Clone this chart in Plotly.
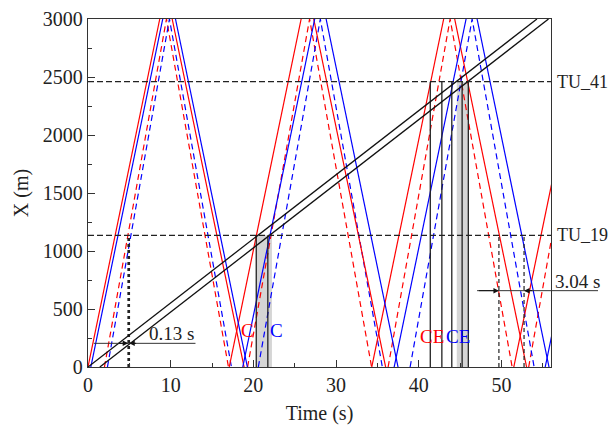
import plotly.graph_objects as go

# ---------------- data ----------------
X_MAX = 56.0
Y_MAX = 3000

TU_41 = 2460
TU_19 = 1135

# red / blue solid trajectories (time s, position m); None separates segments
RED_SOLID_T = [0.0, 8.68, None, 10.18, 18.88, None, 17.08, 25.78, None, 27.30, 36.00,
               None, 34.32, 43.02, None, 44.35, 53.05, None, 51.50, 60.20]
RED_SOLID_X = [0, 3000, None, 3000, 0, None, 0, 3000, None, 3000, 0,
               None, 0, 3000, None, 3000, 0, None, 0, 3000]
BLUE_SOLID_T = [0.34, 9.04, None, 10.58, 19.28, None, 18.72, 27.42, None, 28.80, 37.50,
                None, 37.03, 45.73, None, 47.06, 55.76, None, 55.30, 64.00]
BLUE_SOLID_X = [0, 3000, None, 3000, 0, None, 0, 3000, None, 3000, 0,
                None, 0, 3000, None, 3000, 0, None, 0, 3000]

# red / blue dashed trajectories
RED_DASH_T = [1.99, 9.49, 16.99, None, 19.30, 26.80, 34.30, None, 36.30, 43.80, 51.30, None, 53.30, 60.80]
RED_DASH_X = [0, 3000, 0, None, 0, 3000, 0, None, 0, 3000, 0, None, 0, 3000]
BLUE_DASH_T = [2.35, 9.85, 17.35, None, 20.60, 28.10, 35.60, None, 38.96, 46.46, 53.96]
BLUE_DASH_X = [0, 3000, 0, None, 0, 3000, 0, None, 0, 3000, 0]

# black (slow) trajectories
BLACK_T = [0.0, 54.3, None, 1.43, 55.7]
BLACK_X = [0, 3000, None, 0, 3000]

# vertical event lines
VERT_TU19_SOLID = [20.35, 21.75]
VERT_TU41_SOLID = [41.4, 42.8, 44.0, 45.25, 46.0]
VERT_TU19_DOT = [4.86, 4.99]
VERT_TU19_DASH = [49.7, 52.74]
BANDS = [(20.35, 22.25, TU_19), (44.6, 46.0, TU_41)]

# annotations
GAP1 = dict(label="0.13 s", y=204, line=(0.7, 13.0), text_t=10.15, text_y=285,
            arrows=[(3.5, 4.86), (6.0, 4.99)])
GAP2 = dict(label="3.04 s", y=658, line=(47.06, 1.1015), text_y=740,
            arrows=[(47.1, 49.7), (53.9, 52.74)])
LABELS = [("C", 19.25, 312, "red"), ("C", 22.83, 312, "blue"),
          ("CE", 41.65, 262, "red"), ("CE", 44.8, 262, "blue")]

FONT = "Times New Roman, Liberation Serif, serif"
RED = "#ff0000"
BLUE = "#0000ff"


def vlines(ts, top):
    xs, ys = [], []
    for t in ts:
        xs += [t, t, None]
        ys += [0, top, None]
    return xs, ys


fig = go.Figure()

# coloured trajectories
fig.add_trace(go.Scatter(x=RED_DASH_T, y=RED_DASH_X, mode="lines",
                         line=dict(color=RED, width=1.2, dash="6px,4px")))
fig.add_trace(go.Scatter(x=BLUE_DASH_T, y=BLUE_DASH_X, mode="lines",
                         line=dict(color=BLUE, width=1.2, dash="6px,4px")))
fig.add_trace(go.Scatter(x=RED_SOLID_T, y=RED_SOLID_X, mode="lines",
                         line=dict(color=RED, width=1.2)))
fig.add_trace(go.Scatter(x=BLUE_SOLID_T, y=BLUE_SOLID_X, mode="lines",
                         line=dict(color=BLUE, width=1.2)))

# vertical lines
vx, vy = vlines(VERT_TU19_SOLID, TU_19)
fig.add_trace(go.Scatter(x=vx, y=vy, mode="lines", line=dict(color="#222", width=1.3)))
vx, vy = vlines(VERT_TU41_SOLID, TU_41)
fig.add_trace(go.Scatter(x=vx, y=vy, mode="lines", line=dict(color="#222", width=1.3)))
vx, vy = vlines(VERT_TU19_DOT, TU_19)
fig.add_trace(go.Scatter(x=vx, y=vy, mode="lines", line=dict(color="#222", width=1.6, dash="3px,3px")))
vx, vy = vlines(VERT_TU19_DASH, TU_19)
fig.add_trace(go.Scatter(x=vx, y=vy, mode="lines", line=dict(color="#222", width=1.2, dash="4px,3px")))

# black diagonal lines
fig.add_trace(go.Scatter(x=BLACK_T, y=BLACK_X, mode="lines", line=dict(color="#111", width=1.3)))

shapes = []
for x0, x1, top in BANDS:
    shapes.append(dict(type="rect", xref="x", yref="y", x0=x0, x1=x1, y0=0, y1=top,
                       fillcolor="rgba(150,150,150,0.4)", line=dict(width=0), layer="below"))
for lvl in (TU_41, TU_19):
    shapes.append(dict(type="line", xref="paper", yref="y", x0=0, x1=1, y0=lvl, y1=lvl,
                       line=dict(color="#222", width=1.2, dash="6px,3px")))
# gap measure lines
shapes.append(dict(type="line", xref="x", yref="y", x0=GAP1["line"][0], x1=GAP1["line"][1],
                   y0=GAP1["y"], y1=GAP1["y"], line=dict(color="#333", width=1)))
shapes.append(dict(type="line", xref="paper", yref="y", x0=GAP2["line"][0] / X_MAX, x1=GAP2["line"][1],
                   y0=GAP2["y"], y1=GAP2["y"], line=dict(color="#333", width=1)))
fig.update_layout(shapes=shapes)

annotations = []
for g in (GAP1, GAP2):
    for tail, tip in g["arrows"]:
        annotations.append(dict(x=tip, y=g["y"], ax=tail, ay=g["y"], xref="x", yref="y",
                                axref="x", ayref="y", text="", showarrow=True,
                                arrowhead=2, arrowsize=1.1, arrowwidth=1, arrowcolor="#111",
                                standoff=0, startstandoff=0))
annotations.append(dict(x=GAP1["text_t"], y=GAP1["text_y"], xref="x", yref="y", text=GAP1["label"],
                        showarrow=False, font=dict(family=FONT, size=19, color="#222")))
annotations.append(dict(x=1.004, y=GAP2["text_y"], xref="paper", yref="y", text=GAP2["label"],
                        xanchor="left", showarrow=False, font=dict(family=FONT, size=19, color="#222")))
for name, lvl in (("TU_41", TU_41), ("TU_19", TU_19)):
    annotations.append(dict(x=1.008, y=lvl, xref="paper", yref="y", text=name, xanchor="left",
                            showarrow=False, font=dict(family=FONT, size=18, color="#222")))
for txt, t, y, col in LABELS:
    annotations.append(dict(x=t, y=y, xref="x", yref="y", text=txt, showarrow=False,
                            font=dict(family=FONT, size=19, color=col)))
fig.update_layout(annotations=annotations)

axis_common = dict(showgrid=False, zeroline=False, showline=True, linecolor="#333", linewidth=1.3,
                   mirror=True, ticks="inside", ticklen=7, tickwidth=1.1, tickcolor="#333",
                   tickfont=dict(family=FONT, size=20, color="#222"), automargin=False)

fig.update_xaxes(range=[0, X_MAX], dtick=10, tick0=0,
                 minor=dict(ticks="inside", ticklen=4, dtick=5, tickcolor="#333"),
                 title=dict(text="Time (s)", font=dict(family=FONT, size=20, color="#222"), standoff=10),
                 **axis_common)
fig.update_yaxes(range=[0, Y_MAX], dtick=500, tick0=0,
                 minor=dict(ticks="inside", ticklen=4, dtick=250, tickcolor="#333"),
                 title=dict(text="X (m)", font=dict(family=FONT, size=20, color="#222"), standoff=8),
                 **axis_common)

fig.update_layout(width=608, height=428, margin=dict(l=88, r=57, t=19, b=61),
                  plot_bgcolor="white", paper_bgcolor="white", showlegend=False,
                  template="none")

fig.write_html("out.html")
